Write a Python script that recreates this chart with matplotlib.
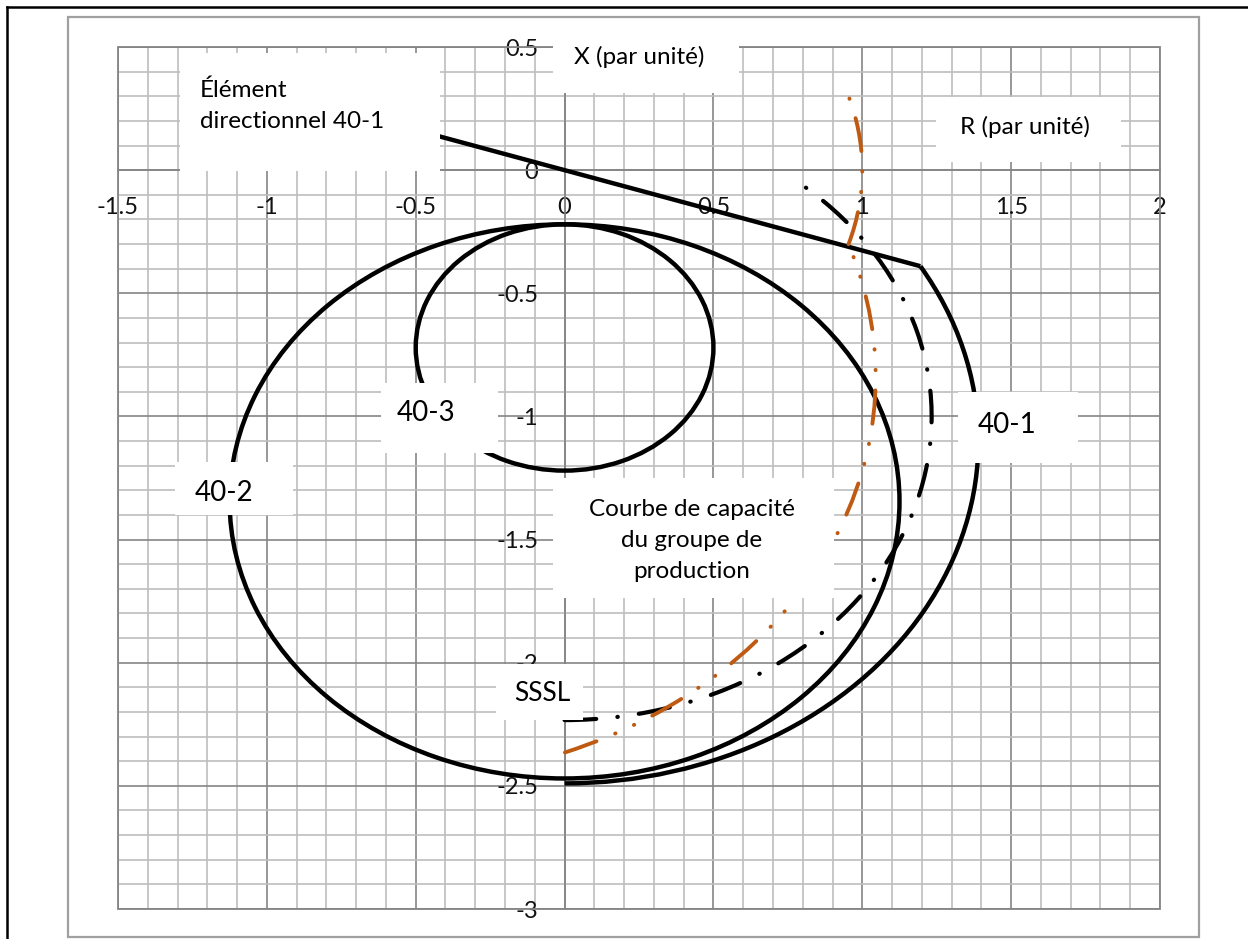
import matplotlib
matplotlib.use('Agg')
import matplotlib.pyplot as plt
from matplotlib.patches import Arc, Rectangle
from matplotlib.lines import Line2D

plt.rcParams['font.family'] = ['Lato', 'DejaVu Sans']
plt.rcParams['axes.unicode_minus'] = False

# axis ticks
x_ticks = [-1.5, -1, -0.5, 0, 0.5, 1, 1.5, 2]
x_tick_labels = ['-1.5', '-1', '-0.5', '0', '0.5', '1', '1.5', '2']
y_ticks = [-3, -2.5, -2, -1.5, -1, -0.5, 0, 0.5]
y_tick_labels = ['-3', '-2.5', '-2', '-1.5', '-1', '-0.5', '0', '0.5']

# mho circles 40-1, 40-2, 40-3 (centre R, centre X, radius, arc start/end in degrees)
circle_center_r = [0.0, 0.0, 0.0]
circle_center_x = [-1.10, -1.345, -0.72]
circle_radius = [1.39, 1.125, 0.50]
circle_theta1 = [-90.0, 0.0, 0.0]
circle_theta2 = [30.7, 360.0, 360.0]

# directional element 40-1 (straight line)
dir_r = [-0.42, 1.195]
dir_x = [0.137, -0.390]

# SSSL arc
sssl_center_r = 0.0
sssl_center_x = -1.0
sssl_radius = 1.233
sssl_theta1 = -90.0
sssl_theta2 = 51.7

# generator capability curve (two arcs)
cap_center_r = [-0.59, 0.0]
cap_center_x = [-0.84, 0.0]
cap_radius = [1.635, 1.0]
cap_theta1 = [-68.8, -17.5]
cap_theta2 = [19.2, 18.3]

W, H = 1248, 939
fig = plt.figure(figsize=(W / 100, H / 100), dpi=100)
ax = fig.add_axes([118 / W, (H - 909) / H, (1160 - 118) / W, (909 - 47) / H])

ax.set_xlim(-1.5, 2)
ax.set_ylim(-3, 0.5)

major_c = '#858585'
minor_c = '#bebebe'
ax.set_xticks(x_ticks)
ax.set_xticklabels(x_tick_labels)
ax.set_yticks(y_ticks)
ax.set_yticklabels(y_tick_labels)
ax.set_xticks([i / 10 for i in range(-15, 21)], minor=True)
ax.set_yticks([i / 10 for i in range(-30, 6)], minor=True)
ax.grid(which='minor', color=minor_c, lw=1.2, zorder=0)
ax.grid(which='major', color=major_c, lw=1.2, zorder=0)
ax.set_axisbelow(True)
ax.tick_params(which='both', length=0, labelsize=17, labelcolor='#111111')
ax.tick_params(axis='x', pad=19)
ax.tick_params(axis='y', pad=19)
ax.spines['left'].set_position(('data', 0))
ax.spines['bottom'].set_position(('data', 0))
for s in ['left', 'bottom']:
    ax.spines[s].set_color(major_c)
    ax.spines[s].set_linewidth(1.2)
for s in ['right', 'top']:
    ax.spines[s].set_visible(False)
ax.add_patch(Rectangle((0, 0), 1, 1, transform=ax.transAxes, fill=False,
                       ec=major_c, lw=1.3, zorder=1, clip_on=False))

# mho circles
for cr, cx, r, t1, t2 in zip(circle_center_r, circle_center_x, circle_radius,
                             circle_theta1, circle_theta2):
    ax.add_patch(Arc((cr, cx), 2 * r, 2 * r, theta1=t1, theta2=t2,
                     color='black', lw=3.2, zorder=3))

# directional line
ax.plot(dir_r, dir_x, color='black', lw=3.2, zorder=3, solid_capstyle='butt')

# SSSL
sssl = Arc((sssl_center_r, sssl_center_x), 2 * sssl_radius, 2 * sssl_radius,
           theta1=sssl_theta1, theta2=sssl_theta2, color='black', lw=3.0, zorder=3,
           linestyle=(0, (7.6, 5.1, 0.1, 5.1)))
sssl.set_capstyle('round')
ax.add_patch(sssl)

# capability curve
for cr, cx, r, t1, t2 in zip(cap_center_r, cap_center_x, cap_radius, cap_theta1, cap_theta2):
    a = Arc((cr, cx), 2 * r, 2 * r, theta1=t1, theta2=t2, color='#BF5A12', lw=2.8,
            zorder=3, linestyle=(0, (8.6, 5.2, 0.1, 5.2, 0.1, 5.2)))
    a.set_capstyle('round')
    ax.add_patch(a)

# white label boxes: (x0, y0, x1, y1) in data units, text, text position, size, alignment
labels = [
    ((-1.291, -0.005, -0.417, 0.475), 'Élément\ndirectionnel 40-1', (-1.224, 0.26), 17.5, 'left'),
    ((-0.040, 0.313, 0.585, 0.62), 'X (par unité)', (0.252, 0.459), 17.5, 'center'),
    ((1.247, 0.033, 1.869, 0.297), 'R (par unité)', (1.546, 0.175), 17.5, 'center'),
    ((-0.618, -1.150, -0.222, -0.866), '40-3', (-0.464, -0.988), 20, 'center'),
    ((-1.308, -1.402, -0.911, -1.187), '40-2', (-1.143, -1.309), 20, 'center'),
    ((1.321, -1.191, 1.724, -0.902), '40-1', (1.486, -1.033), 20, 'center'),
    ((-0.040, -1.736, 0.904, -1.252), 'Courbe de capacité\ndu groupe de\nproduction',
     (0.427, -1.504), 17.5, 'center'),
    ((-0.232, -2.234, 0.061, -2.004), 'SSSL', (-0.074, -2.126), 19, 'center'),
]
for (x0, y0, x1, y1), txt, (tx, ty), fs, ha in labels:
    ax.add_patch(Rectangle((x0, y0), x1 - x0, y1 - y0, fc='white', ec='none',
                           zorder=5, clip_on=False))
    ax.text(tx, ty, txt, fontsize=fs, ha=ha, va='center', multialignment=ha,
            linespacing=1.6, color='black', zorder=6)

# chart area frame and outer page border
fig.add_artist(Rectangle((68 / W, (H - 937) / H), (1199 - 68) / W, (937 - 17) / H,
                         transform=fig.transFigure, fill=False, ec='#a0a0a0', lw=1.6))
fig.add_artist(Line2D([7 / W, 7 / W], [0, 1 - 7 / H], transform=fig.transFigure,
                      color='black', lw=1.8))
fig.add_artist(Line2D([7 / W, 1], [1 - 7 / H, 1 - 7 / H], transform=fig.transFigure,
                      color='black', lw=1.8))

fig.savefig('out.png', dpi=100)
